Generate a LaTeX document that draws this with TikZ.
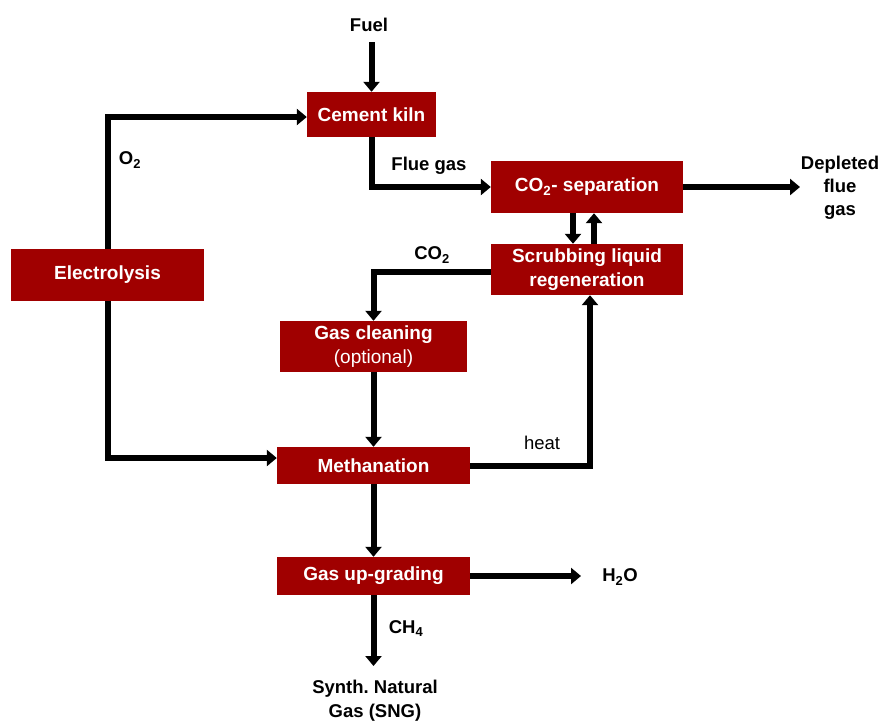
\documentclass[tikz,border=0pt]{standalone}
\usepackage{fontspec}
\setmainfont{Liberation Sans}
\usetikzlibrary{arrows.meta}
\definecolor{boxred}{RGB}{160,0,0}
\begin{document}
\begin{tikzpicture}[x=1pt,y=-1pt,
  procbox/.style={fill=boxred,text=white,font=\fontsize{19}{24}\selectfont\bfseries,inner sep=0pt,align=center},
  lbl/.style={font=\fontsize{18.5}{22}\selectfont\bfseries,inner sep=0pt,align=center},
  flow/.style={line width=6pt,-{Triangle[width=16pt,length=10pt]}}]
\useasboundingbox (0,0) rectangle (882,720);
\node[procbox,minimum width=129pt,minimum height=45pt] (kiln) at (371.5,114.5) {Cement kiln};
\node[procbox,minimum width=192pt,minimum height=52pt] (sep) at (587,187) {CO\textsubscript{2}- separation};
\node[procbox,minimum width=192pt,minimum height=51pt] (scrub) at (587,269.5) {Scrubbing liquid\\regeneration};
\node[procbox,minimum width=193pt,minimum height=52pt] (elec) at (107.5,275) {Electrolysis};
\node[procbox,minimum width=187pt,minimum height=51pt] (clean) at (373.5,346.5) {Gas cleaning\\{\mdseries (optional)}};
\node[procbox,minimum width=193pt,minimum height=37pt] (meth) at (373.5,465.5) {Methanation};
\node[procbox,minimum width=193pt,minimum height=38pt] (upg) at (373.5,576) {Gas up-grading};
% external labels
\node[lbl] (fuel) at (369,25) {Fuel};
\node[lbl] (o2) at (130,160) {O\textsubscript{2}};
\node[lbl] (flue) at (429,166) {Flue gas};
\node[lbl] (co2) at (432,255) {CO\textsubscript{2}};
\node[lbl,font=\fontsize{18.5}{22}\selectfont] (heat) at (542,443) {heat};
\node[lbl] (ch4) at (406,629) {CH\textsubscript{4}};
\node[lbl,font=\fontsize{18.5}{23}\selectfont\bfseries] (dep) at (840,188) {Depleted\\flue\\gas};
\node[lbl] (h2o) at (620,577) {H\textsubscript{2}O};
\node[lbl,font=\fontsize{18.5}{24}\selectfont\bfseries] (sng) at (375,701) {Synth.\ Natural\\Gas (SNG)};
\coordinate (depend) at (800,187);
\coordinate (h2oend) at (581,576);
\coordinate (sngend) at (373.5,666);
\coordinate (fueltop) at (371.5,42);
% connectors
\draw[flow] (fueltop) -- (kiln.north);
\draw[flow] (elec.north) |- ([yshift=-2.5pt]kiln.west);
\draw[flow] (elec.south) |- ([yshift=7.5pt]meth.west);
\draw[flow] (kiln.south) |- (sep.west);
\draw[flow] (sep.east) -- (depend);
\draw[flow] ([xshift=-14pt]sep.south) -- ([xshift=-14pt]scrub.north);
\draw[flow] ([xshift=7pt]scrub.north) -- ([xshift=7pt]sep.south);
\draw[flow] ([yshift=-2.5pt]scrub.west) -| (clean.north);
\draw[flow] (clean.south) -- (meth.north);
\draw[flow] (meth.east) -| ([xshift=3pt]scrub.south);
\draw[flow] (meth.south) -- (upg.north);
\draw[flow] (upg.east) -- (h2oend);
\draw[flow] (upg.south) -- (sngend);
\end{tikzpicture}
\end{document}
